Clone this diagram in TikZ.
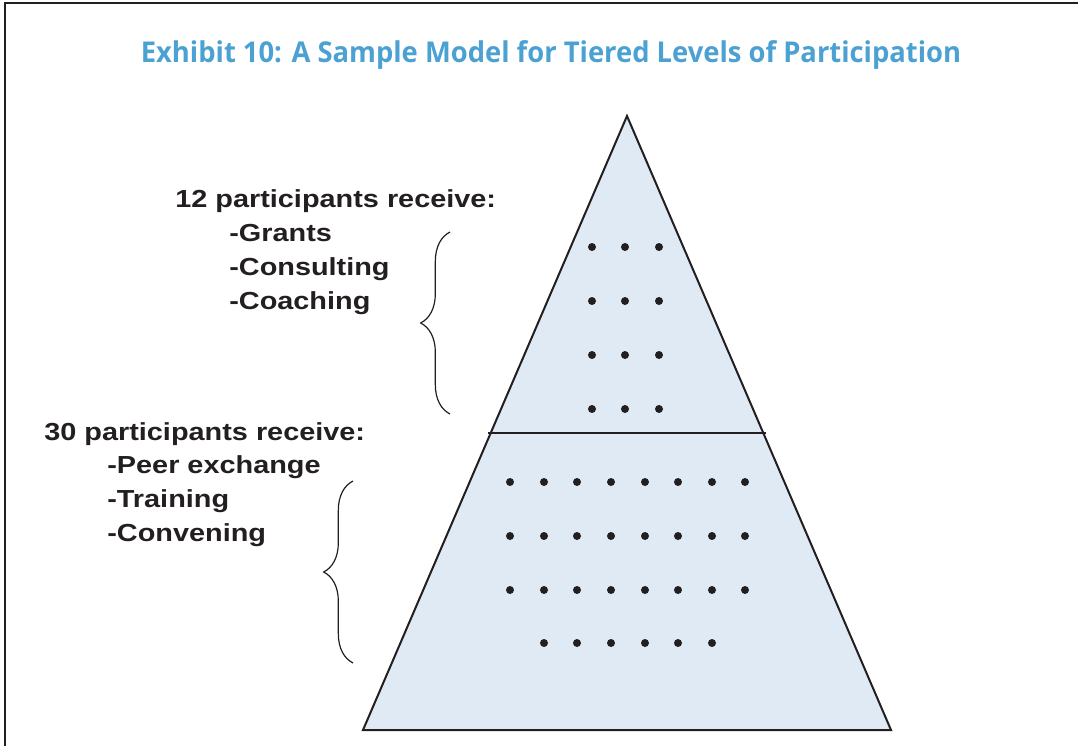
\documentclass[tikz,border=0pt]{standalone}
\usepackage{fontspec}
\setmainfont{Liberation Sans}
\newfontfamily\titlefont{Open Sans}
\usetikzlibrary{decorations.pathreplacing}
\definecolor{titleblue}{RGB}{76,161,211}
\definecolor{tierfill}{RGB}{223,234,245}
\definecolor{inkgray}{RGB}{35,31,32}

\begin{document}
\begin{tikzpicture}[x=0.75pt, y=-0.75pt,
    label text/.style={inner sep=0pt, anchor=base west, text=inkgray, xscale=1.17, transform shape,
      font=\fontsize{18.5}{20}\selectfont\bfseries},
    person/.style={fill=inkgray, draw=none},
    tier brace/.style={draw=inkgray, line width=0.9pt, decorate, decoration={brace, amplitude=22pt, aspect=0.5}}]
  \useasboundingbox (0,0) rectangle (1078,746);

  % frame (top and left only)
  \draw[inkgray, line width=1.8pt] (5,746) -- (5,3) -- (1078,3);

  % title
  \node[inner sep=0pt, anchor=base, text=titleblue, xscale=0.955, transform shape,
    font=\titlefont\fontsize{21.5}{24}\selectfont\bfseries] (title) at (551,62)
    {Exhibit 10: A Sample Model for Tiered Levels of Participation};

  % pyramid
  \coordinate (apex) at (627,116);
  \coordinate (base-l) at (363,730);
  \coordinate (base-r) at (891,730);
  \coordinate (split-l) at (488,433);
  \coordinate (split-r) at (766,433);
  \draw[fill=tierfill, draw=inkgray, line width=1.5pt, line join=miter] (apex) -- (base-r) -- (base-l) -- cycle;
  \draw[inkgray, line width=1.1pt] (split-l) -- (split-r);

  % top tier: 12 participants
  \foreach \y in {247,301,355,409}
    \foreach \x in {592,625,659}
      \fill[person] (\x,\y) circle (4);

  % bottom tier: 30 participants
  \foreach \y in {482,536,590}
    \foreach \x in {510,544,577,611,645,678,712,745}
      \fill[person] (\x,\y) circle (4);
  \foreach \x in {544,577,611,645,678,712}
    \fill[person] (\x,643) circle (4);

  % labels
  \node[label text] (top-head) at (175,207) {12 participants receive:};
  \node[label text] (grants) at (229,241) {-Grants};
  \node[label text] (consulting) at (229,275) {-Consulting};
  \node[label text] (coaching) at (229,309) {-Coaching};

  \node[label text] (low-head) at (44,440) {30 participants receive:};
  \node[label text] (peer) at (107,473) {-Peer exchange};
  \node[label text] (training) at (107,507) {-Training};
  \node[label text] (convening) at (107,541) {-Convening};

  % braces
  \coordinate (top-brace-a) at (450,414);
  \coordinate (top-brace-b) at (450,232);
  \coordinate (low-brace-a) at (353,663);
  \coordinate (low-brace-b) at (353,481);
  \draw[tier brace] (top-brace-a) -- (top-brace-b);
  \draw[tier brace] (low-brace-a) -- (low-brace-b);
\end{tikzpicture}
\end{document}
